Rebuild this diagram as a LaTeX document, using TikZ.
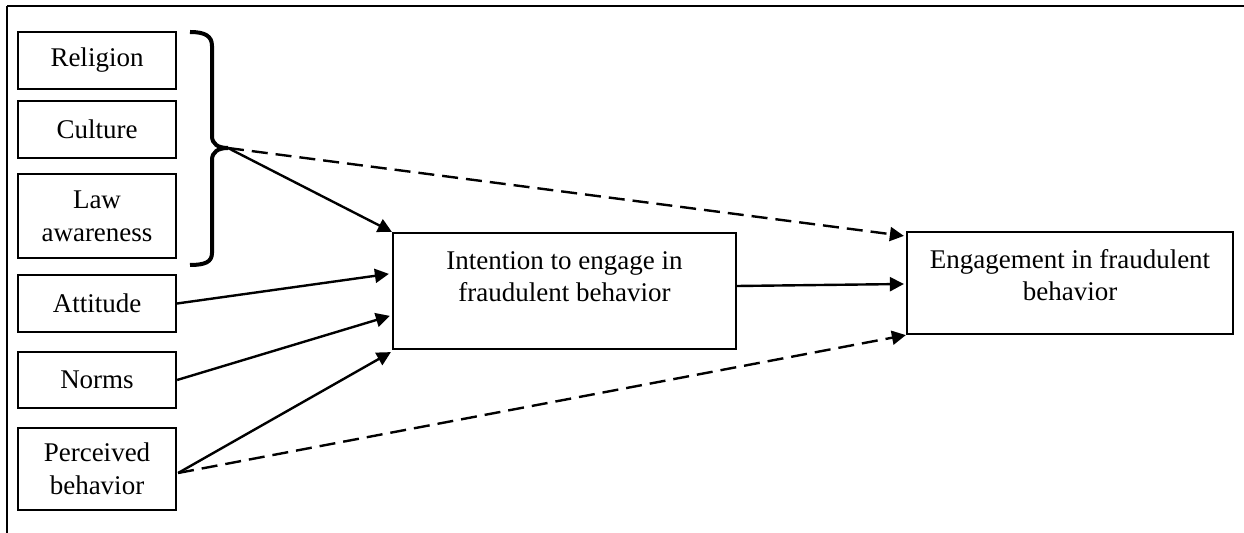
\documentclass[tikz,border=0pt]{standalone}
\usepackage{fontspec}
\setmainfont{Liberation Serif}
\usetikzlibrary{arrows.meta,calc}
\tikzset{
  bx/.style={draw, line width=1.1pt, inner sep=0pt, align=center},
  src/.style={bx, minimum width=79pt, font=\fontsize{13.5}{16.5}\selectfont},
  txt/.style={align=center, inner sep=0pt, font=\fontsize{13.5}{15.8}\selectfont},
  arr/.style={-{Triangle[length=7pt,width=7pt]}, line width=1.2pt},
  darr/.style={arr, dash pattern=on 8pt off 4pt},
  brc/.style={line width=2pt},
}
\begin{document}
\begin{tikzpicture}[x=0.5pt,y=-0.5pt]
  \useasboundingbox (0,0) rectangle (1244,533);
  \draw[line width=1.2pt] (1244,6) -- (7,6);
  \draw[line width=0.6pt] (7,6) -- (7,533);
  \foreach \n/\y/\h/\t in {
    rel/60.5/28.5pt/Religion,
    cul/129.5/28.5pt/Culture,
    law/216/42pt/{Law\\awareness},
    att/303.5/28.5pt/Attitude,
    nrm/380/28pt/Norms,
    per/469/41pt/{Perceived\\behavior}}
    \node[src, minimum height=\h] (\n) at (97,\y) {\t};
  \draw[brc] (190,32) .. controls (205,32) and (212,36) .. (212,46) -- (212,136)
    .. controls (212,144) and (218,148) .. (228,148) coordinate (tip)
    .. controls (218,148) and (212,152) .. (212,160) -- (212,253)
    .. controls (212,262) and (205,265) .. (190,265);
  \node[bx, minimum width=171.5pt, minimum height=58pt] (int) at (564.5,291) {};
  \node[txt] (intt) at ($(int.north)+(0,44.5)$) {Intention to engage in\\fraudulent behavior};
  \node[bx, minimum width=163pt, minimum height=51pt] (eng) at (1070,283) {};
  \node[txt] (engt) at ($(eng.north)+(0,44)$) {Engagement in fraudulent\\behavior};
  \draw[arr] (tip) -- (int.north west);
  \draw[darr] (tip) -- ($(eng.north west)+(-2,5)$);
  \draw[arr] (att.east) -- ($(int.north west)+(-3,42)$);
  \draw[arr] (nrm.east) -- ($(int.north west)+(-2,84)$);
  \draw[arr] ($(per.east)+(1,4)$) -- ($(int.south west)+(-1,2)$);
  \draw[darr] ($(per.east)+(1,4)$) -- (eng.south west);
  \draw[arr] ($(int.east)+(0,-5)$) -- ($(eng.west)+(-2,1)$);
\end{tikzpicture}
\end{document}
